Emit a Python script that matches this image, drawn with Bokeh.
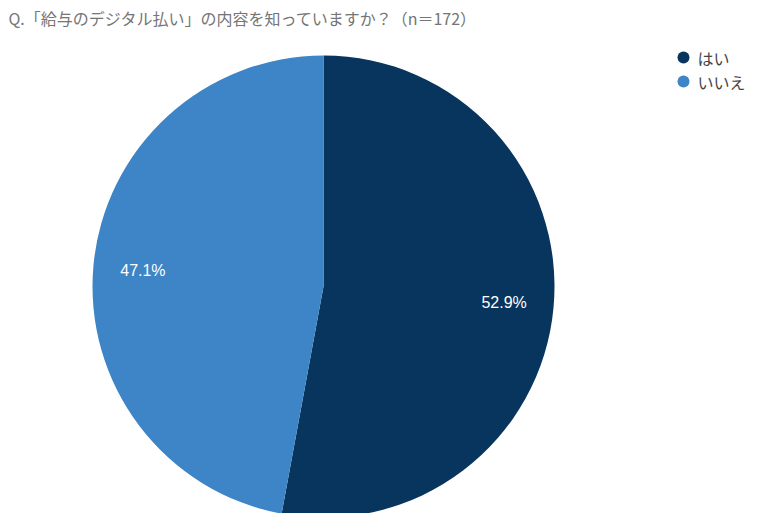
import numpy as np
from bokeh.plotting import figure
from bokeh.models import ColumnDataSource, Range1d, Label
from bokeh.core.properties import value
from bokeh.embed import file_html
from bokeh.resources import INLINE

# Data
categories = ["はい", "いいえ"]
shares = [52.9, 47.1]
colors = ["#08355e", "#3d85c6"]
title_text = "Q.「給与のデジタル払い」の内容を知っていますか？（n＝172）"

W, H = 757, 513
cx, cy, radius = 323, 227, 231

frac = np.array(shares) / sum(shares)
cum = np.concatenate([[0], np.cumsum(frac)])
start = np.pi / 2 - 2 * np.pi * cum[:-1]
end = np.pi / 2 - 2 * np.pi * cum[1:]
mid = (start + end) / 2

source = ColumnDataSource(data=dict(
    cat=categories,
    share=shares,
    color=colors,
    start=start,
    end=end,
    lx=cx + 0.785 * radius * np.cos(mid),
    ly=cy + 0.785 * radius * np.sin(mid),
    label=["%.1f%%" % s for s in shares],
))

p = figure(width=W, height=H, x_range=Range1d(0, W), y_range=Range1d(0, H),
           output_backend="svg", toolbar_location=None, min_border=0)
p.axis.visible = False
p.grid.visible = False
p.outline_line_color = None
p.background_fill_color = "white"

p.wedge(x=cx, y=cy, radius=radius, start_angle="start", end_angle="end",
        direction="clock", fill_color="color", line_color=None, source=source)

p.text(x="lx", y="ly", text="label", source=source, text_color="white",
       text_font=value("Liberation Sans"), text_font_size="16px",
       text_align="center", text_baseline="middle")

# Legend
leg = ColumnDataSource(data=dict(
    x=[683] * len(categories),
    y=[456 - 24 * i for i in range(len(categories))],
    tx=[697] * len(categories),
    cat=categories,
    color=colors,
))
p.scatter(x="x", y="y", size=12, marker="circle", fill_color="color",
          line_color=None, source=leg)
p.text(x="tx", y="y", text="cat", source=leg, text_color="#444444",
       text_font=value("Noto Sans CJK JP"), text_font_size="16px",
       text_baseline="middle")

# Title
p.add_layout(Label(x=8, y=496, x_units="screen", y_units="screen",
                   text=title_text, text_font="Noto Sans CJK JP",
                   text_font_size="16px", text_color="#757575",
                   text_baseline="middle"))

open("out.html", "w").write(file_html(p, INLINE))
